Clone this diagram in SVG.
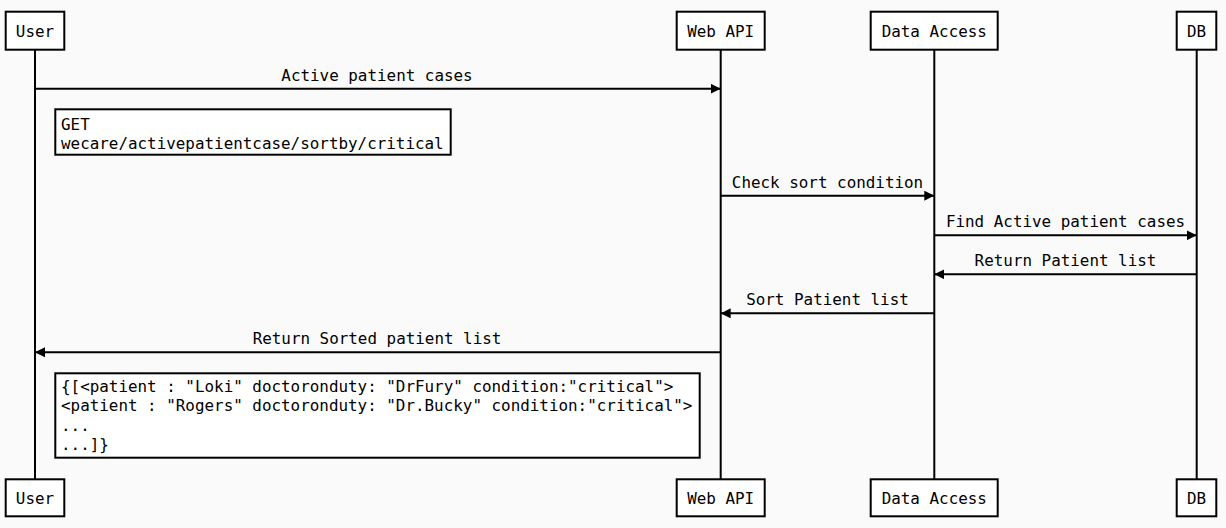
<svg xmlns="http://www.w3.org/2000/svg" width="1226" height="528" viewBox="0 0 1226 528">
<style>
text{font-family:"DejaVu Sans Mono","Liberation Mono",monospace;font-size:15.9px;fill:#000}
.box{fill:#fff;stroke:#000;stroke-width:2}
.life{stroke:#000;stroke-width:2}
.msg{stroke:#000;stroke-width:2;fill:none}
.c{text-anchor:middle}
</style>
<defs>
<marker id="ah" viewBox="0 0 10 10" refX="10" refY="5" markerWidth="10" markerHeight="10" markerUnits="userSpaceOnUse" orient="auto">
<path d="M0,0 L10,5 L0,10 Z" fill="#000"/>
</marker>
</defs>
<rect width="1226" height="528" fill="#fafafa"/>
<g id="lifelines">
<line class="life" x1="35" y1="50" x2="35" y2="479"/>
<line class="life" x1="720.7" y1="50" x2="720.7" y2="479"/>
<line class="life" x1="934.3" y1="50" x2="934.3" y2="479"/>
<line class="life" x1="1196.7" y1="50" x2="1196.7" y2="479"/>
</g>
<g id="user">
<rect class="box" x="5.7" y="11.7" width="58.6" height="38"/>
<text class="c" x="35" y="36.5">User</text>
<rect class="box" x="5.7" y="479.3" width="58.6" height="37"/>
<text class="c" x="35" y="504">User</text>
</g>
<g id="webapi">
<rect class="box" x="676.7" y="11.7" width="88" height="38"/>
<text class="c" x="720.7" y="36.5">Web API</text>
<rect class="box" x="676.7" y="479.3" width="88" height="37"/>
<text class="c" x="720.7" y="504">Web API</text>
</g>
<g id="dataaccess">
<rect class="box" x="870.7" y="11.7" width="127" height="38"/>
<text class="c" x="934.3" y="36.5">Data Access</text>
<rect class="box" x="870.7" y="479.3" width="127" height="37"/>
<text class="c" x="934.3" y="504">Data Access</text>
</g>
<g id="db">
<rect class="box" x="1176.7" y="11.7" width="39.6" height="38"/>
<text class="c" x="1196.5" y="36.5">DB</text>
<rect class="box" x="1176.7" y="479.3" width="39.6" height="37"/>
<text class="c" x="1196.5" y="504">DB</text>
</g>
<g id="connectors">
<line class="msg" x1="35" y1="88.7" x2="720.7" y2="88.7" marker-end="url(#ah)"/>
<text class="c" x="377" y="80.5">Active patient cases</text>
<line class="msg" x1="720.7" y1="195.7" x2="934.3" y2="195.7" marker-end="url(#ah)"/>
<text class="c" x="827.5" y="187.5">Check sort condition</text>
<line class="msg" x1="934.3" y1="235.3" x2="1196.7" y2="235.3" marker-end="url(#ah)"/>
<text class="c" x="1065.5" y="227">Find Active patient cases</text>
<line class="msg" x1="1196.7" y1="274.3" x2="934.3" y2="274.3" marker-end="url(#ah)"/>
<text class="c" x="1065.5" y="266">Return Patient list</text>
<line class="msg" x1="934.3" y1="313.3" x2="720.7" y2="313.3" marker-end="url(#ah)"/>
<text class="c" x="827.5" y="305">Sort Patient list</text>
<line class="msg" x1="720.7" y1="352.3" x2="35" y2="352.3" marker-end="url(#ah)"/>
<text class="c" x="377" y="344">Return Sorted patient list</text>
</g>
<g id="note1">
<rect class="box" x="55.3" y="109.3" width="395.4" height="45.4"/>
<text x="61" y="130">GET</text>
<text x="61" y="149">wecare/activepatientcase/sortby/critical</text>
</g>
<g id="note2">
<rect class="box" x="55.3" y="373.3" width="644.4" height="84.4"/>
<text x="61" y="391.5">{[&lt;patient : "Loki" doctoronduty: "DrFury" condition:"critical"&gt;</text>
<text x="61" y="411">&lt;patient : "Rogers" doctoronduty: "Dr.Bucky" condition:"critical"&gt;</text>
<text x="61" y="430.5">...</text>
<text x="61" y="450">...]}</text>
</g>
</svg>
